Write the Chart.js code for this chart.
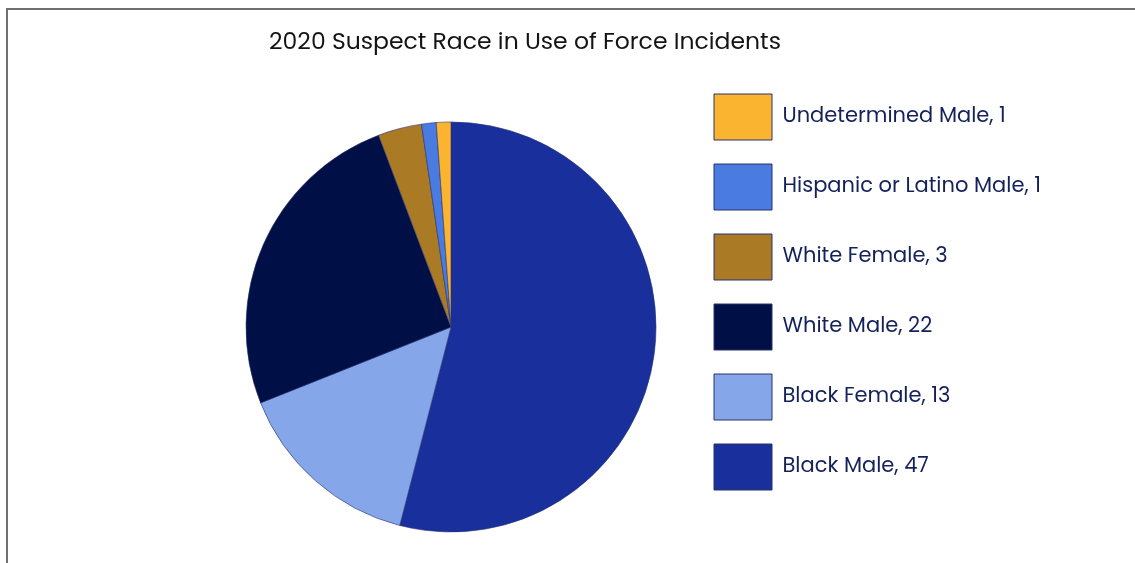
<!DOCTYPE html>
<html>
<head>
<meta charset="utf-8">
<script src="https://cdn.jsdelivr.net/npm/chart.js@4/dist/chart.umd.min.js"></script>
<style>
  html, body { margin: 0; padding: 0; background: #fff; overflow: hidden; }
  #wrap { position: relative; width: 1135px; height: 563px; overflow: hidden; }
  #frame { position: absolute; left: 6px; top: 8px; width: 1200px; height: 600px;
           border-left: 2px solid #6f6f6f; border-top: 2px solid #6f6f6f; box-sizing: border-box; }
  #c { position: absolute; left: 0; top: 0; }
</style>
</head>
<body>
<div id="wrap">
  <div id="frame"></div>
  <canvas id="c" width="1135" height="605"></canvas>
</div>
<script>
// Incident counts by suspect race/sex, in drawing order (clockwise from 12 o'clock)
const categories = ['Black Male', 'Black Female', 'White Male', 'White Female', 'Hispanic or Latino Male', 'Undetermined Male'];
const counts = [47, 13, 22, 3, 1, 1];
const sliceColors = ['#19309C', '#86A6EA', '#000F45', '#AB7A24', '#4A7BE0', '#FBB430'];
const chartTitle = '2020 Suspect Race in Use of Force Incidents';

const fontFamily = "'Poppins', 'Open Sans', 'Noto Sans', sans-serif";
const legendColor = '#14215A';
const legendBoxLeft = 714;
const pieCenterX = 451;

// Title centred over the left 1050px of the card rather than over the plot area
const headingPlugin = {
  id: 'heading',
  afterDraw(chart, args, opts) {
    const ctx = chart.ctx;
    ctx.save();
    ctx.font = opts.font;
    ctx.fillStyle = opts.color;
    ctx.textAlign = 'center';
    ctx.textBaseline = 'middle';
    ctx.fillText(opts.text, opts.x, opts.y);
    ctx.restore();
  }
};

const chart = new Chart(document.getElementById('c'), {
  type: 'pie',
  plugins: [headingPlugin],
  data: {
    labels: categories,
    datasets: [{
      data: counts,
      backgroundColor: sliceColors,
      borderColor: '#26326e',
      borderWidth: 0.6,
      radius: 205
    }]
  },
  options: {
    responsive: false,
    animation: false,
    layout: { padding: { left: 2 * pieCenterX - (legendBoxLeft - 24), right: 0, top: 70, bottom: 21 } },
    plugins: {
      tooltip: { enabled: false },
      title: { display: false },
      heading: {
        text: chartTitle,
        x: 525,
        y: 43,
        color: '#141414',
        font: "23.5px " + fontFamily
      },
      legend: {
        position: 'right',
        align: 'start',
        fullSize: false,
        reverse: true,
        labels: {
          color: legendColor,
          font: { family: fontFamily, size: 21 },
          boxWidth: 58,
          boxHeight: 46,
          padding: 24,
          generateLabels(ch) {
            const ds = ch.data.datasets[0];
            return ch.data.labels.map((lab, i) => ({
              text: lab + ', ' + ds.data[i],
              fillStyle: ds.backgroundColor[i],
              strokeStyle: '#26326e',
              fontColor: legendColor,
              lineWidth: 1,
              hidden: false,
              index: i
            }));
          }
        }
      }
    }
  }
});

// Push the legend in from the right edge so its colour boxes start at legendBoxLeft
chart.options.layout.padding.right = chart.width - (legendBoxLeft - 24) - chart.legend.width;
chart.update();
</script>
</body>
</html>
